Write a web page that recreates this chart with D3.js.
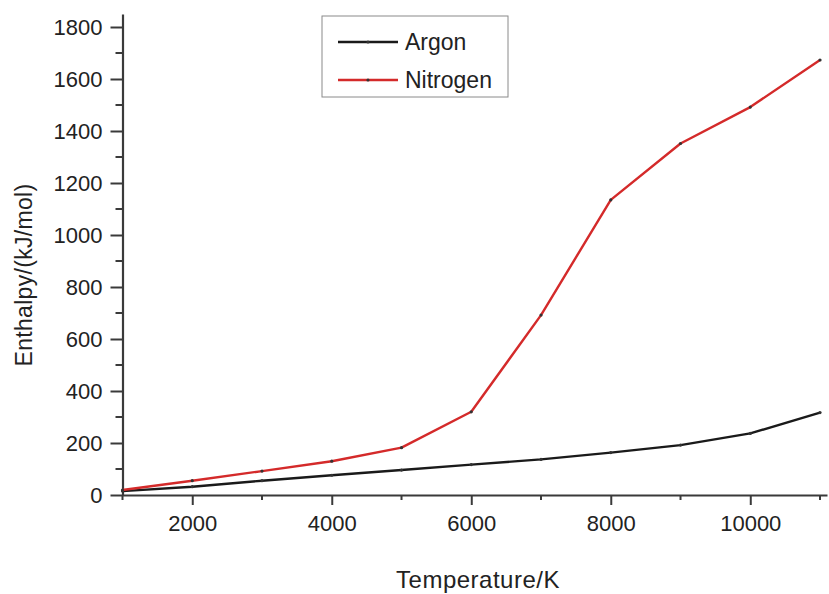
<!DOCTYPE html>
<html>
<head>
<meta charset="utf-8">
<script src="https://cdn.jsdelivr.net/npm/d3@7"></script>
<style>
  body { margin: 0; background: #fff; }
  svg { display: block; font-family: "Liberation Sans", Arial, sans-serif; }
</style>
</head>
<body>
<script>
// data
const temperatures = [1000, 2000, 3000, 4000, 5000, 6000, 7000, 8000, 9000, 10000, 11000]
const argon = [15, 32, 55, 76, 96, 117, 137, 163, 192, 237, 317]
const nitrogen = [19, 55, 92, 130, 182, 320, 692, 1135, 1352, 1492, 1673]
const series_names = ['Argon', 'Nitrogen']
const series_colors = ['#1a1a1a', '#d42a2a']
const x_ticks = [2000, 4000, 6000, 8000, 10000]
const y_ticks = [0, 200, 400, 600, 800, 1000, 1200, 1400, 1600, 1800]

const width = 829, height = 594
const axis_color = '#3a3a3a'
const text_color = '#222'

const x = d3.scaleLinear().domain([1000, 11100]).range([122.5, 827])
const y = d3.scaleLinear().domain([0, 1850]).range([495, 14])

const svg = d3.select('body').append('svg')
    .attr('width', width)
    .attr('height', height)

// minor ticks
const x_minor = d3.range(1000, 11001, 1000).filter(v => !x_ticks.includes(v))
const y_minor = d3.range(100, 1801, 200)

svg.append('g')
    .selectAll('line')
    .data(x_minor)
    .join('line')
    .attr('x1', d => x(d)).attr('x2', d => x(d))
    .attr('y1', y(0)).attr('y2', y(0) + 5)
    .attr('stroke', axis_color).attr('stroke-width', 2)

svg.append('g')
    .selectAll('line')
    .data(y_minor)
    .join('line')
    .attr('x1', x(1000) - 7).attr('x2', x(1000))
    .attr('y1', d => y(d)).attr('y2', d => y(d))
    .attr('stroke', axis_color).attr('stroke-width', 2)

// axes
const fmt = d3.format('d')
const x_axis = svg.append('g')
    .attr('transform', `translate(0,${y(0)})`)
    .call(d3.axisBottom(x).tickValues(x_ticks).tickFormat(fmt).tickSize(10).tickPadding(10).tickSizeOuter(0))
const y_axis = svg.append('g')
    .attr('transform', `translate(${x(1000)},0)`)
    .call(d3.axisLeft(y).tickValues(y_ticks).tickFormat(fmt).tickSize(12).tickPadding(8).tickSizeOuter(0))

for (const g of [x_axis, y_axis]) {
    g.select('.domain').attr('stroke', axis_color).attr('stroke-width', 2.2)
    g.selectAll('.tick line').attr('stroke', axis_color).attr('stroke-width', 2)
    g.selectAll('.tick text')
        .attr('fill', text_color)
        .style('font-size', '22px')
        .style('font-family', '"Liberation Sans", Arial, sans-serif')
}

// lines
const all_series = [argon, nitrogen]
const line = d3.line().x((d, i) => x(temperatures[i])).y(d => y(d))

all_series.forEach((values, s) => {
    svg.append('path')
        .datum(values)
        .attr('d', line)
        .attr('fill', 'none')
        .attr('stroke', series_colors[s])
        .attr('stroke-width', 2.4)
        .attr('stroke-linejoin', 'round')
    svg.append('g')
        .selectAll('circle')
        .data(values)
        .join('circle')
        .attr('cx', (d, i) => x(temperatures[i]))
        .attr('cy', d => y(d))
        .attr('r', 1.6)
        .attr('fill', '#333')
})

// axis titles
svg.append('text')
    .text('Temperature/K')
    .attr('x', 478)
    .attr('y', 588)
    .attr('text-anchor', 'middle')
    .attr('fill', text_color)
    .style('font-size', '24px')
    .style('letter-spacing', '0.5px')

svg.append('text')
    .text('Enthalpy/(kJ/mol)')
    .attr('transform', 'translate(32,275) rotate(-90)')
    .attr('text-anchor', 'middle')
    .attr('fill', text_color)
    .style('font-size', '23px')
    .style('letter-spacing', '0.3px')

// legend
const legend = svg.append('g')
legend.append('rect')
    .attr('x', 322).attr('y', 16)
    .attr('width', 186).attr('height', 81)
    .attr('fill', '#fff')
    .attr('stroke', '#8a8a8a')
    .attr('stroke-width', 1)

series_names.forEach((name, i) => {
    const ly = 42 + i * 38
    legend.append('line')
        .attr('x1', 338).attr('x2', 398)
        .attr('y1', ly).attr('y2', ly)
        .attr('stroke', series_colors[i])
        .attr('stroke-width', 2.4)
    legend.append('circle')
        .attr('cx', 368).attr('cy', ly).attr('r', 1.6).attr('fill', '#333')
    legend.append('text')
        .text(name)
        .attr('x', 405)
        .attr('y', ly + 8)
        .attr('fill', text_color)
        .style('font-size', '23px')
})
</script>
</body>
</html>
